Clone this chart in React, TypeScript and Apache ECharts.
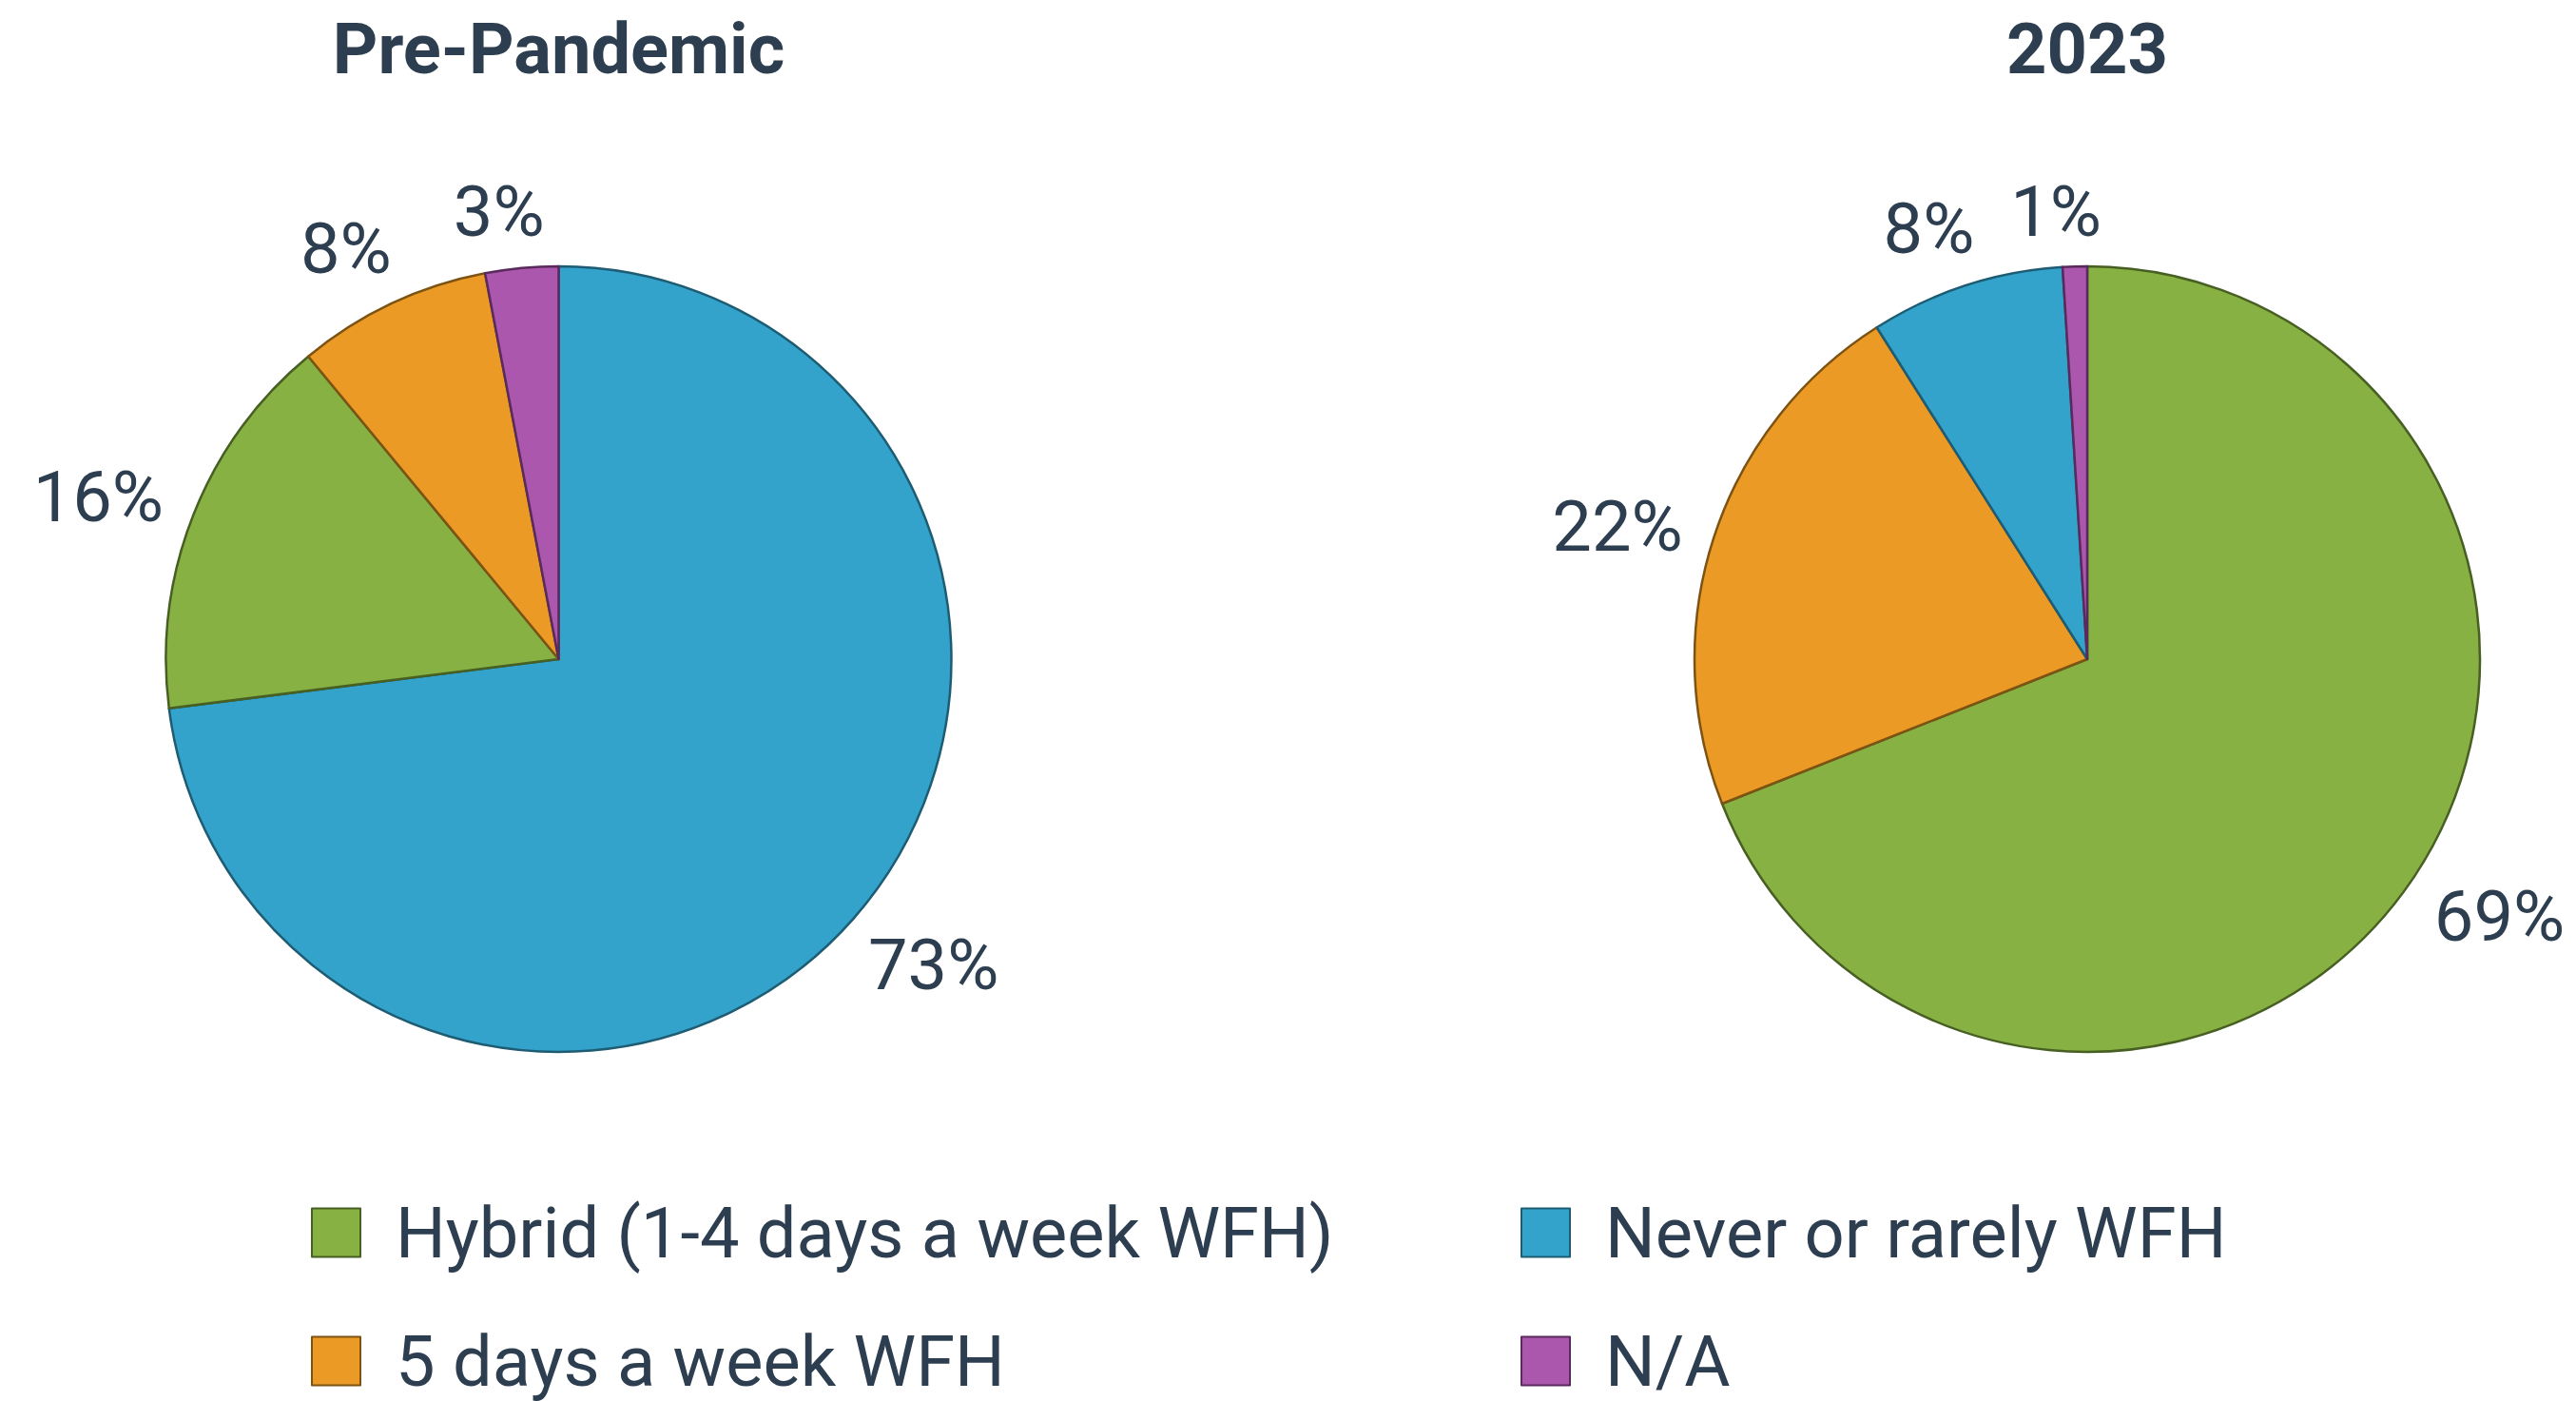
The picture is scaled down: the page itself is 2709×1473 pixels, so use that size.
import React, { useEffect, useRef } from "react";
import * as echarts from "echarts";

const categories = [
  "Hybrid (1-4 days a week WFH)",
  "5 days a week WFH",
  "Never or rarely WFH",
  "N/A",
];
const prePandemicValues = [16, 8, 73, 3];
const values2023 = [69, 22, 8, 1];
const panelTitles = ["Pre-Pandemic", "2023"];

const fillColors = ["#87B143", "#EC9A26", "#34A3CB", "#AB57AD"];
const borderColors = ["#475F22", "#7C5313", "#1D5C73", "#5B2A5C"];

const TEXT_COLOR = "#2D3E50";
const FONT = "Roboto";
const FS = 74;

const CENTERS = [
  [587.5, 693],
  [2195, 693],
];
const RADIUS = 413;

// legend slots: [left, top] for each category
const LEGEND_SLOTS = [
  [327, 1259],
  [327, 1394],
  [1599, 1259],
  [1599, 1394],
];

function buildItems(values: number[]) {
  const items = categories.map((name, i) => ({
    name,
    value: values[i],
    itemStyle: {
      color: fillColors[i],
      borderColor: borderColors[i],
      borderWidth: 2.5,
    },
  }));
  // sorted largest first, drawn clockwise from 12 o'clock
  return items.sort((a, b) => b.value - a.value);
}

export default function App() {
  const ref = useRef<HTMLDivElement>(null);

  useEffect(() => {
    if (!ref.current) return;
    const chart = echarts.init(ref.current, null, { renderer: "svg" });

    const pies = [buildItems(prePandemicValues), buildItems(values2023)];

    const makeLayout = (si: number) => (params: any) => {
      const items = pies[si];
      const total = items.reduce((s, it) => s + it.value, 0);
      let acc = 0;
      for (let i = 0; i < params.dataIndex; i++) acc += items[i].value;
      const mid =
        ((acc + items[params.dataIndex].value / 2) / total) * Math.PI * 2 -
        (2.2 * Math.PI) / 180;
      const ux = Math.sin(mid);
      const uy = -Math.cos(mid);
      const w = params.labelRect.width;
      const d = RADIUS + 38 + (Math.abs(ux) * w) / 2.3 + 18 * Math.abs(uy);
      return {
        x: CENTERS[si][0] + ux * d,
        y: CENTERS[si][1] + uy * d,
        align: "center",
        verticalAlign: "middle",
      };
    };

    const legendText = {
      color: TEXT_COLOR,
      fontFamily: FONT,
      fontSize: FS,
      lineHeight: 51,
      padding: [0, 0, 0, 32],
    };

    const option: any = {
      animation: false,
      backgroundColor: "#ffffff",
      graphic: panelTitles.map((t, i) => ({
        type: "text",
        x: CENTERS[i][0],
        y: 51.7,
        style: {
          text: t,
          fill: TEXT_COLOR,
          fontFamily: FONT,
          fontSize: FS,
          fontWeight: "bold",
          align: "center",
          verticalAlign: "middle",
        },
      })),
      legend: categories.map((c, i) => ({
        data: [c],
        left: LEGEND_SLOTS[i][0],
        top: LEGEND_SLOTS[i][1],
        orient: "horizontal",
        padding: 0,
        itemWidth: 51,
        itemHeight: 51,
        icon: "rect",
        selectedMode: false,
        textStyle: legendText,
      })),
      series: pies.map((items, si) => ({
        type: "pie",
        center: CENTERS[si],
        radius: RADIUS,
        startAngle: 90,
        clockwise: true,
        avoidLabelOverlap: false,
        silent: true,
        data: items,
        label: {
          show: true,
          position: "inside",
          formatter: (p: any) => `${p.value}%`,
          color: TEXT_COLOR,
          fontFamily: FONT,
          fontSize: FS,
          lineHeight: FS,
        },
        labelLine: { show: false },
        labelLayout: makeLayout(si),
        emphasis: { disabled: true },
      })),
    };

    chart.setOption(option);
    return () => chart.dispose();
  }, []);

  return (
    <div
      ref={ref}
      style={{ position: "fixed", left: 0, top: 0, width: 2709, height: 1473 }}
    />
  );
}
